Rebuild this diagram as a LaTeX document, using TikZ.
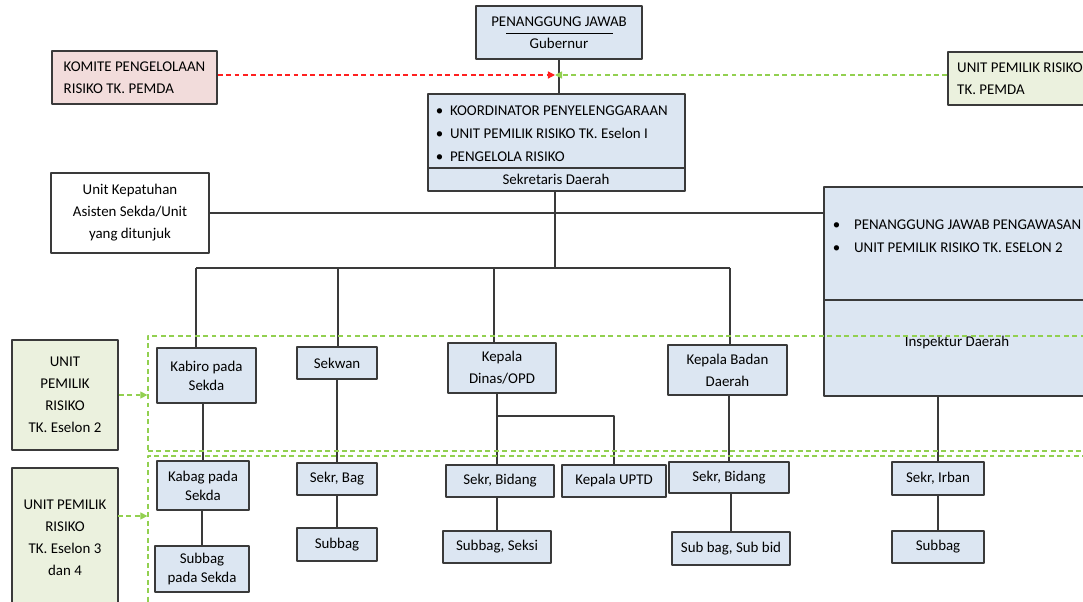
\documentclass[tikz,border=0pt]{standalone}
\usepackage{fontspec}
\setmainfont{Carlito}
\usetikzlibrary{arrows.meta,fit}

\definecolor{boxblue}{HTML}{DCE6F2}
\definecolor{boxgreen}{HTML}{EBF1DE}
\definecolor{boxpink}{HTML}{F2DCDB}
\definecolor{zonegreen}{HTML}{92D050}
\definecolor{linegray}{HTML}{3A3A3A}
\definecolor{komitered}{HTML}{FF2020}

\tikzset{
  orgbox/.style={draw=linegray, line width=0.9pt, fill=boxblue, inner sep=0pt},
  txt/.style={align=center},
  tighttxt/.style={align=center, font=\fontsize{10.6}{13.5}\selectfont},
  orgline/.style={draw=linegray, line width=0.8pt},
  zone/.style={draw=zonegreen, line width=0.9pt, dash pattern=on 3.5pt off 2.5pt, inner sep=0pt},
  zonearrow/.style={draw=zonegreen, line width=0.9pt, dash pattern=on 3.5pt off 2.5pt,
    -{Triangle[length=5pt,width=5pt,fill=zonegreen]}},
  redarrow/.style={draw=komitered, line width=0.9pt, dash pattern=on 3.5pt off 2.5pt,
    -{Triangle[length=5pt,width=5pt,fill=komitered]}},
}
\newcommand{\blt}[1]{\makebox[#1][l]{\textbullet}}

\begin{document}
\begin{tikzpicture}[x=0.025cm,y=-0.025cm,line join=round,
  font=\fontsize{10.6}{15.6}\selectfont]
  \path[use as bounding box,clip] (0,0) rectangle (1083,602);

  % top level
  \node[orgbox, fit={(476,6) (642,59)}, label={[txt]center:PENANGGUNG JAWAB\\Gubernur}] (pj) {};
  \draw[line width=0.6pt] (506,33) -- (613,33);
  \node[orgbox, fill=boxpink, fit={(52,51) (217,104)},
    label={[align=left]center:KOMITE PENGELOLAAN\\RISIKO TK. PEMDA}] (komite) {};
  \node[orgbox, fill=boxgreen, fit={(948,52) (1092,105)},
    label={[align=left]center:UNIT PEMILIK RISIKO\\TK. PEMDA}] (pemda) {};
  \node[orgbox, fill=white, fit={(51,173) (209,253)},
    label={[txt]center:Unit Kepatuhan\\Asisten Sekda/Unit\\yang ditunjuk}] (patuh) {};

  % sekretaris daerah
  \node[orgbox, fit={(428,94) (685,191)}] (sekda) {};
  \draw[orgline] (428,168) -- (685,168);
  \node[anchor=west, align=left, font=\fontsize{10.6}{16.3}\selectfont] (sekdalist) at (431,134)
    {\blt{10pt}KOORDINATOR PENYELENGGARAAN\\\blt{10pt}UNIT PEMILIK RISIKO TK. Eselon I\\\blt{10pt}PENGELOLA RISIKO};
  \node (sekdaname) at (556,179) {Sekretaris Daerah};

  % inspektur
  \node[orgbox, fit={(824,187) (1092,396)}] (insp) {};
  \draw[orgline] (824,300) -- (1092,300);
  \node[anchor=west, align=left, font=\fontsize{10.6}{16.3}\selectfont] (insplist) at (828,236)
    {\blt{15pt}PENANGGUNG JAWAB PENGAWASAN\\\blt{15pt}UNIT PEMILIK RISIKO TK. ESELON 2};
  \node (inspname) at (957,343) {Inspektur Daerah};

  % eselon 2
  \node[orgbox, fit={(157,348) (256,403)}, label={[tighttxt]center:Kabiro pada\\Sekda}] (kabiro) {};
  \node[orgbox, fit={(297,347) (377,379)}, label={[txt]center:Sekwan}] (sekwan) {};
  \node[orgbox, fit={(448,343) (556,393)}, label={[txt]center:Kepala\\Dinas/OPD}] (dinas) {};
  \node[orgbox, fit={(668,345) (787,395)}, label={[txt]center:Kepala Badan\\Daerah}] (badan) {};

  % eselon 3 dan 4
  \node[orgbox, fit={(157,461) (249,510)}, label={[tighttxt]center:Kabag pada\\Sekda}] (kabag) {};
  \node[orgbox, fit={(155,546) (249,592)}, label={[tighttxt]center:Subbag\\pada Sekda}] (subsekda) {};
  \node[orgbox, fit={(297,463) (377,495)}, label={[txt]center:Sekr, Bag}] (sekrbag) {};
  \node[orgbox, fit={(297,528) (377,561)}, label={[txt]center:Subbag}] (subbag) {};
  \node[orgbox, fit={(446,465) (554,497)}, label={[txt]center:Sekr, Bidang}] (sekrbid) {};
  \node[orgbox, fit={(562,465) (666,497)}, label={[txt]center:Kepala UPTD}] (uptd) {};
  \node[orgbox, fit={(443,531) (551,563)}, label={[txt]center:Subbag, Seksi}] (seksi) {};
  \node[orgbox, fit={(669,462) (789,493)}, label={[txt]center:Sekr, Bidang}] (sekrbidb) {};
  \node[orgbox, fit={(672,532) (790,565)}, label={[txt]center:Sub bag, Sub bid}] (subbid) {};
  \node[orgbox, fit={(892,462) (984,495)}, label={[txt]center:Sekr, Irban}] (irban) {};
  \node[orgbox, fit={(892,531) (984,563)}, label={[txt]center:Subbag}] (subirban) {};

  % unit pemilik risiko (kiri)
  \node[orgbox, fill=boxgreen, fit={(12,340) (118,450)},
    label={[txt]center:UNIT\\PEMILIK\\RISIKO\\TK. Eselon 2}] (es2) {};
  \node[orgbox, fill=boxgreen, fit={(12,468) (118,608)},
    label={[txt]center:UNIT PEMILIK\\RISIKO\\TK. Eselon 3\\dan 4}] (es34) {};

  % connectors
  \coordinate (meet) at (555,75);
  \draw[orgline] (pj.south) -- (pj.south |- sekda.north);
  \draw[redarrow] (komite.east |- meet) -- (meet);
  \draw[zonearrow] (pemda.west |- meet) -- (meet);
  \coordinate (bus) at (555,268);
  \draw[orgline] (sekda.south -| bus) -- (bus);
  \draw[orgline] (patuh.east) -- (patuh.east -| insp.west);
  \coordinate (t1) at (196,268);
  \coordinate (t2) at (338,268);
  \coordinate (t3) at (494,268);
  \coordinate (t4) at (730,268);
  \draw[orgline] (t1) -- (t4);
  \foreach \t/\b in {t1/kabiro, t2/sekwan, t3/dinas, t4/badan}
    \draw[orgline] (\t) -- (\t |- \b.north);
  \draw[orgline] (kabag.north |- kabiro.south) -- (kabag.north);
  \draw[orgline] (subsekda.north |- kabag.south) -- (subsekda.north);
  \draw[orgline] (sekwan.south) -- (sekwan.south |- sekrbag.north);
  \draw[orgline] (sekrbag.south) -- (sekrbag.south |- subbag.north);
  \coordinate (fork) at (497,416);
  \draw[orgline] (dinas.south -| fork) -- (fork |- sekrbid.north);
  \draw[orgline] (fork) -| (uptd.north);
  \draw[orgline] (seksi.north -| fork) -- (sekrbid.south -| fork);
  \draw[orgline] (sekrbidb.north |- badan.south) -- (sekrbidb.north);
  \draw[orgline] (subbid.north |- sekrbidb.south) -- (subbid.north);
  \draw[orgline] (irban.north |- insp.south) -- (irban.north);
  \draw[orgline] (irban.south) -- (subirban.north);

  % zona unit pemilik risiko
  \node[zone, fit={(148,336) (1095,451)}] (zone1) {};
  \node[zone, fit={(148,456) (1095,615)}] (zone2) {};
  \coordinate (a34) at (118,516);
  \draw[zonearrow] (es2.east) -- (es2.east -| zone1.west);
  \draw[zonearrow] (a34) -- (a34 -| zone2.west);
\end{tikzpicture}
\end{document}
